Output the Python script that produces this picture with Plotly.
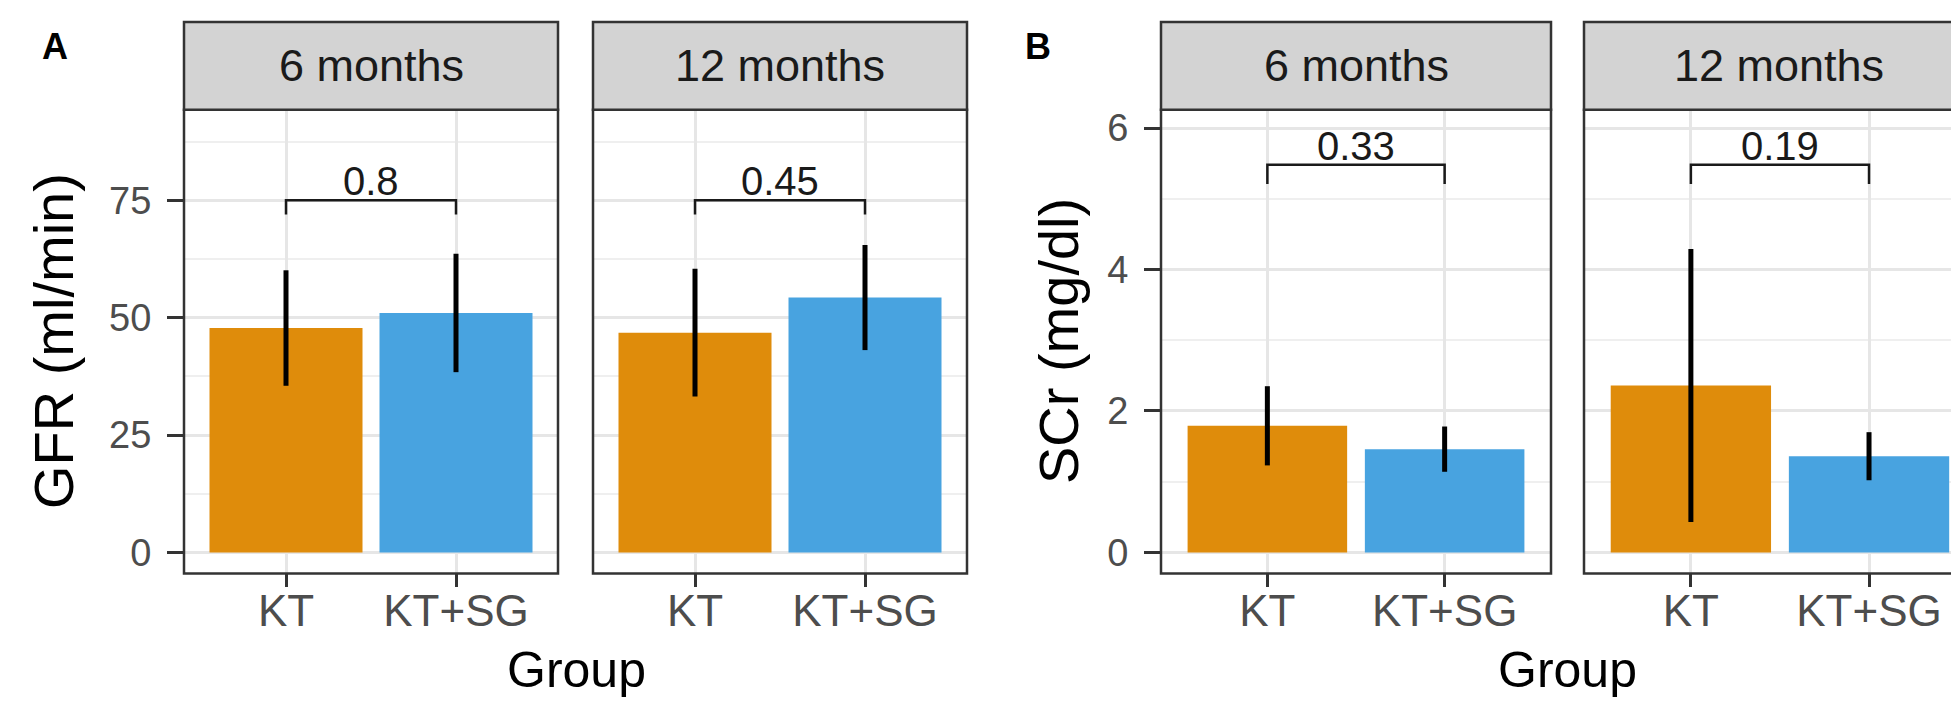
import plotly.graph_objects as go

# ---------------- data ----------------
groups = ["KT", "KT+SG"]
facets = ["6 months", "12 months"]

gfr_6_mean = [47.8, 51.0]
gfr_6_err = [12.3, 12.6]
gfr_12_mean = [46.8, 54.3]
gfr_12_err = [13.6, 11.2]

scr_6_mean = [1.79, 1.46]
scr_6_err = [0.56, 0.32]
scr_12_mean = [2.36, 1.36]
scr_12_err = [1.93, 0.34]

gfr_pvals = ["0.8", "0.45"]
scr_pvals = ["0.33", "0.19"]
gfr_bracket = [72.0, 75.0]   # [leg end, top]
scr_bracket = [5.21, 5.48]

gfr_ticks = [0, 25, 50, 75]
scr_ticks = [0, 2, 4, 6]

# ---------------- styling ----------------
W, H = 1959, 701
FONT = "Liberation Sans, Arial, sans-serif"
ORANGE = "#DF8C0B"
BLUE = "#48A3E0"
BORDER = "#333333"


def px(x):
    return x / W


def py(y):
    return 1 - y / H


PLOT_TOP, PLOT_BOT = 100, 565
STRIP_TOP = 12
panels = [(176, 550), (585, 959), (1153, 1543), (1576, 1966)]
xranges = [[-0.6, 1.6], [-0.6, 1.6], [-0.6, 1.6], [-0.6, 1.55]]
yrange_gfr = [-4.46, 94.3]
yrange_scr = [-0.297, 6.26]

panel_data = [
    (gfr_6_mean, gfr_6_err, gfr_pvals[0], gfr_bracket, facets[0]),
    (gfr_12_mean, gfr_12_err, gfr_pvals[1], gfr_bracket, facets[1]),
    (scr_6_mean, scr_6_err, scr_pvals[0], scr_bracket, facets[0]),
    (scr_12_mean, scr_12_err, scr_pvals[1], scr_bracket, facets[1]),
]

fig = go.Figure()
shapes = []
annotations = []
layout = {}

for i, ((l, r), (means, errs, pv, br, facet)) in enumerate(zip(panels, panel_data)):
    n = i + 1
    xa = "x" if n == 1 else f"x{n}"
    ya = "y" if n == 1 else f"y{n}"
    fig.add_trace(go.Bar(
        x=groups, y=means, width=0.9,
        marker=dict(color=[ORANGE, BLUE], line=dict(width=0)),
        error_y=dict(type="data", array=errs, color="black", thickness=5, width=0),
        xaxis=xa, yaxis=ya, showlegend=False,
    ))
    # significance bracket
    fig.add_trace(go.Scatter(
        x=[groups[0], groups[0], groups[1], groups[1]],
        y=[br[0], br[1], br[1], br[0]],
        mode="lines", line=dict(color="#1a1a1a", width=2.5),
        xaxis=xa, yaxis=ya, showlegend=False, hoverinfo="skip",
    ))
    annotations.append(dict(
        x=0.5, y=br[1], xref=xa, yref=ya, text=pv, showarrow=False,
        yanchor="bottom", yshift=-5,
        font=dict(family=FONT, size=40, color="#1a1a1a"),
    ))

    is_gfr = n <= 2
    show_y = n in (1, 3)
    dom_r = min(px(r), 1.0)
    layout[f"xaxis{'' if n == 1 else n}"] = dict(
        domain=[px(l), dom_r], anchor=ya, range=xranges[i],
        type="category", showgrid=True, gridcolor="#E6E6E6", gridwidth=2.5,
        ticks="outside", ticklen=13, tickwidth=2.5, tickcolor=BORDER,
        tickfont=dict(family=FONT, size=44, color="#4D4D4D"),
        ticklabelstandoff=-14,
        showline=False, zeroline=False, fixedrange=True,
    )
    yax = dict(
        domain=[py(PLOT_BOT), py(PLOT_TOP)], anchor=xa,
        range=yrange_gfr if is_gfr else yrange_scr,
        tickmode="array", tickvals=gfr_ticks if is_gfr else scr_ticks,
        showgrid=True, gridcolor="#E6E6E6", gridwidth=2.5,
        minor=dict(dtick=12.5 if is_gfr else 1, tick0=0, showgrid=True,
                   gridcolor="#EFEFEF", gridwidth=1.5, ticks=""),
        zeroline=False, showline=False, fixedrange=True,
        ticks="outside" if show_y else "", ticklen=16, tickwidth=2.5, tickcolor=BORDER,
        showticklabels=show_y,
        tickfont=dict(family=FONT, size=38, color="#4D4D4D"),
        ticklabelstandoff=8,
    )
    if not show_y:
        yax["matches"] = "y" if is_gfr else "y3"
    layout[f"yaxis{'' if n == 1 else n}"] = yax

    # panel border
    shapes.append(dict(type="rect", xref="paper", yref="paper",
                       x0=px(l), x1=px(r), y0=py(PLOT_BOT), y1=py(PLOT_TOP),
                       line=dict(color=BORDER, width=2.5), fillcolor="rgba(0,0,0,0)",
                       layer="above"))
    # strip
    shapes.append(dict(type="rect", xref="paper", yref="paper",
                       x0=px(l), x1=px(r), y0=py(PLOT_TOP), y1=py(STRIP_TOP),
                       line=dict(color=BORDER, width=2.5), fillcolor="#D3D3D3",
                       layer="above"))
    annotations.append(dict(
        x=px((l + r) / 2), y=py((STRIP_TOP + PLOT_TOP) / 2), xref="paper", yref="paper",
        text=facet, showarrow=False, xanchor="center", yanchor="middle",
        font=dict(family=FONT, size=45, color="#1A1A1A"),
    ))

# axis titles and panel letters
annotations += [
    dict(x=px(45), y=py(332), xref="paper", yref="paper", text="GFR (ml/min)",
         textangle=-90, showarrow=False, xanchor="center", yanchor="middle",
         font=dict(family=FONT, size=56, color="black")),
    dict(x=px(1050), y=py(332), xref="paper", yref="paper", text="SCr (mg/dl)",
         textangle=-90, showarrow=False, xanchor="center", yanchor="middle",
         font=dict(family=FONT, size=56, color="black")),
    dict(x=px(568), y=0, xref="paper", yref="paper", text="Group",
         showarrow=False, xanchor="center", yanchor="bottom", yshift=9,
         font=dict(family=FONT, size=50, color="black")),
    dict(x=px(1559), y=0, xref="paper", yref="paper", text="Group",
         showarrow=False, xanchor="center", yanchor="bottom", yshift=9,
         font=dict(family=FONT, size=50, color="black")),
    dict(x=px(47), y=py(37), xref="paper", yref="paper", text="<b>A</b>",
         showarrow=False, xanchor="center", yanchor="middle",
         font=dict(family=FONT, size=36, color="black")),
    dict(x=px(1030), y=py(37), xref="paper", yref="paper", text="<b>B</b>",
         showarrow=False, xanchor="center", yanchor="middle",
         font=dict(family=FONT, size=36, color="black")),
]

fig.update_layout(
    width=W, height=H,
    margin=dict(l=0, r=0, t=0, b=0),
    paper_bgcolor="white", plot_bgcolor="white",
    shapes=shapes, annotations=annotations,
    bargap=0.1, showlegend=False,
    **layout,
)

fig.write_html("out.html")
